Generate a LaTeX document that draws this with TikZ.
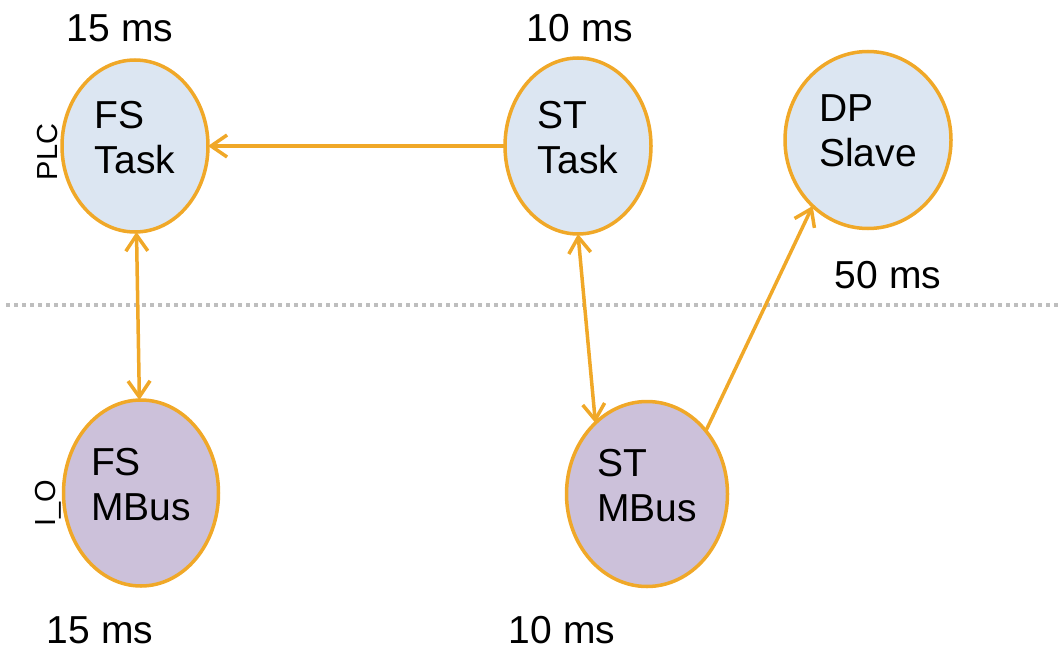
\documentclass[tikz,border=0pt]{standalone}
\usepackage{fontspec}
\setmainfont{Liberation Sans}
\usetikzlibrary{shapes.geometric,arrows.meta}
\definecolor{linkorange}{RGB}{240,168,40}
\definecolor{plcfill}{RGB}{220,230,242}
\definecolor{iofill}{RGB}{204,193,218}
\definecolor{sepgray}{RGB}{190,190,190}
\begin{document}
\begin{tikzpicture}[x=1pt,y=-1pt,inner sep=0pt,outer sep=0pt,
font=\fontsize{39}{45}\selectfont,
>={Straight Barb[length=16pt,width=22pt]},
link/.style={draw=linkorange,line width=3.5pt,line cap=round},
task/.style={draw=linkorange,line width=3.5pt,ellipse,fill=plcfill,align=left,text depth=18pt},
bus/.style={draw=linkorange,line width=3.5pt,ellipse,fill=iofill,align=left,text depth=18pt}]
\useasboundingbox (0,0) rectangle (1059,650);

% separator between PLC and I/O
\draw[sepgray,line width=4pt,dash pattern=on 4pt off 4pt] (6,305) -- (1059,305);

\draw (135,146) node[task,minimum width=146pt,minimum height=172pt] (fstask) {FS\\Task};
\draw (578,146) node[task,minimum width=146pt,minimum height=176pt] (sttask) {ST\\Task};
\draw (868,140) node[task,minimum width=166pt,minimum height=177pt] (dpslave) {DP\\Slave};
\draw (141,493) node[bus,minimum width=155pt,minimum height=186pt] (fsmbus) {FS\\MBus};
\draw (647,494) node[bus,minimum width=161pt,minimum height=185pt] (stmbus) {ST\\MBus};

\draw (120,28) node (fstaskt) {15 ms};
\draw (580,28) node (sttaskt) {10 ms};
\draw (888,275) node (dpslavet) {50 ms};
\draw (100,630) node (fsmbust) {15 ms};
\draw (562,630) node (stmbust) {10 ms};

\draw (48,152) node[rotate=90,font=\fontsize{29}{33}\selectfont] (plc) {PLC};
\draw (48,503) node[rotate=90,font=\fontsize{29}{33}\selectfont] (io) {I\_O};

\draw[link,->] (sttask.west) -- (fstask.east);
\draw[link,<->] (fstask) -- (fsmbus);
\draw[link,<->] (sttask.south) -- (stmbus.126);
\draw[link,->] (stmbus.47) -- (dpslave.230);

\end{tikzpicture}
\end{document}
